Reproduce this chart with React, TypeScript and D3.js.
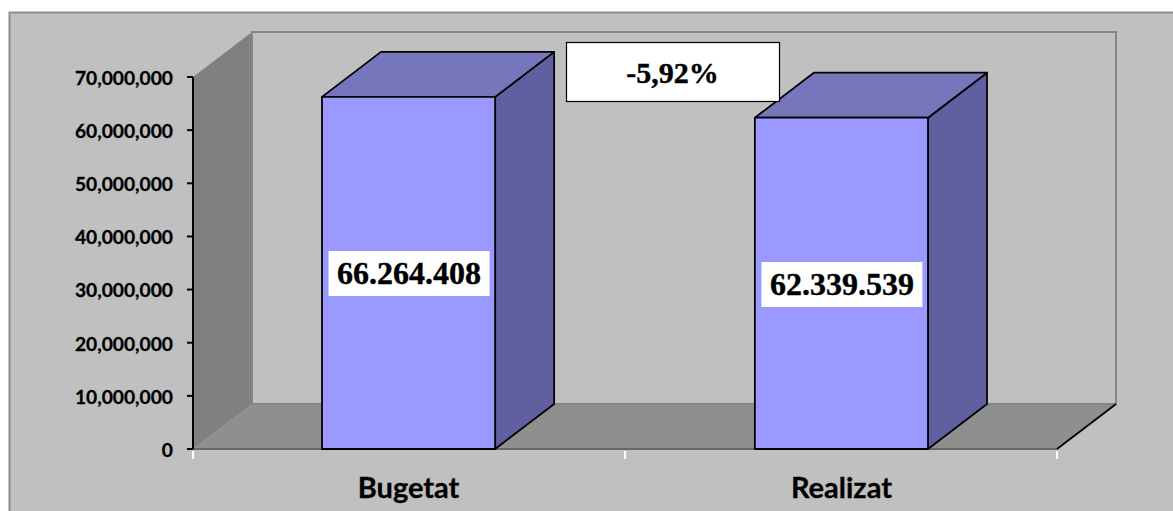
import React from "react";
import * as d3 from "d3";

const categories = ["Bugetat", "Realizat"];
const values = [66264408, 62339539];
const valueLabels = ["66.264.408", "62.339.539"];
const ticks = [0, 10000000, 20000000, 30000000, 40000000, 50000000, 60000000, 70000000];
const note = "-5,92%";

const W = 1173, H = 511;
const x0 = 193, x1 = 1057, y0 = 449, yT = 77, dx = 59, dy = -45;
const y = d3.scaleLinear().domain([0, 70000000]).range([y0, yT]);
const band = d3.scaleBand<string>().domain(categories).range([x0, x1]).paddingInner(0.6).paddingOuter(0.298);
const fmt = d3.format(",");
const poly = (p: [number, number][]) => d3.line()(p)! + "Z";
const sans = "Lato, 'Open Sans', sans-serif";
const serif = "'Liberation Serif', serif";

export default function App() {
  const bw = band.bandwidth();
  return (
    <svg width={W} height={H} viewBox={`0 0 ${W} ${H}`} style={{ position: "absolute", left: 0, top: 0, display: "block" }}>
      <rect width={W} height={H} fill="#fff" />
      <rect x={9.5} y={12.5} width={W} height={H} fill="#c0c0c0" stroke="#8c8c8c" strokeWidth={2} />
      {/* back wall */}
      <path d={poly([[x0 + dx, yT + dy], [x1 + dx, yT + dy], [x1 + dx, y0 + dy], [x0 + dx, y0 + dy]])} fill="#c0c0c0" stroke="#868686" strokeWidth={2} />
      {/* side wall */}
      <path d={poly([[x0, y0], [x0, yT], [x0 + dx, yT + dy], [x0 + dx, y0 + dy]])} fill="#808080" />
      {/* floor */}
      <path d={poly([[x0, y0], [x0 + dx, y0 + dy], [x1 + dx, y0 + dy], [x1, y0]])} fill="#8f8f8f" />
      <line x1={x0 + dx} x2={x0 + dx} y1={yT + dy} y2={y0 + dy} stroke="#868686" strokeWidth={2} />
      <line x1={x0 + dx} x2={x1 + dx} y1={y0 + dy} y2={y0 + dy} stroke="#868686" strokeWidth={2} />
      <line x1={x0} x2={x1} y1={y0} y2={y0} stroke="#666" strokeWidth={2} />
      <line x1={x1} x2={x1 + dx} y1={y0} y2={y0 + dy} stroke="#000" strokeWidth={1.8} />
      {categories.map((c, i) => {
        const l = band(c)!, r = l + bw, t = y(values[i]);
        return (
          <g key={c} stroke="#000" strokeWidth={1.8} strokeLinejoin="round">
            <path d={poly([[r, t], [r + dx, t + dy], [r + dx, y0 + dy], [r, y0]])} fill="#6060a0" />
            <path d={poly([[l, t], [l + dx, t + dy], [r + dx, t + dy], [r, t]])} fill="#7676bd" />
            <rect x={l} y={t} width={bw} height={y0 - t} fill="#9999ff" />
          </g>
        );
      })}
      <line x1={x0} x2={x0} y1={yT} y2={y0} stroke="#000" strokeWidth={2} />
      {ticks.map(t => (
        <g key={t}>
          <line x1={x0 - 6} x2={x0} y1={y(t)} y2={y(t)} stroke="#000" strokeWidth={2} />
          <text x={173} y={y(t) + 1} dy="0.36em" textAnchor="end" fontFamily={sans} fontWeight={700} fontSize={19.2} fill="#000" stroke="#000" strokeWidth={0.3}>{fmt(t)}</text>
        </g>
      ))}
      {[x0, (x0 + x1) / 2, x1].map(v => (
        <line key={v} x1={v} x2={v} y1={y0 + 2} y2={y0 + 10} stroke="#fff" strokeWidth={2} />
      ))}
      {categories.map(c => (
        <text key={c} x={band(c)! + bw / 2} y={498} textAnchor="middle" fontFamily={sans} fontWeight={700} fontSize={29} fill="#000" stroke="#000" strokeWidth={0.3}>{c}</text>
      ))}
      {categories.map((c, i) => {
        const cx = band(c)! + bw / 2;
        const cy = i === 0 ? 273 : 284;
        return (
          <g key={c + "l"}>
            <rect x={cx - 80} y={cy - 22} width={161} height={45} fill="#fff" />
            <text x={cx + 0.5} y={cy + 11} textAnchor="middle" fontFamily={serif} fontWeight={700} fontSize={32} fill="#000" stroke="#000" strokeWidth={0.4}>{valueLabels[i]}</text>
          </g>
        );
      })}
      <rect x={566.5} y={42.5} width={213} height={59} fill="#fff" stroke="#000" strokeWidth={1.2} />
      <text x={672.5} y={83} textAnchor="middle" fontFamily={serif} fontWeight={700} fontSize={30} fill="#000" stroke="#000" strokeWidth={0.4}>{note}</text>
    </svg>
  );
}
